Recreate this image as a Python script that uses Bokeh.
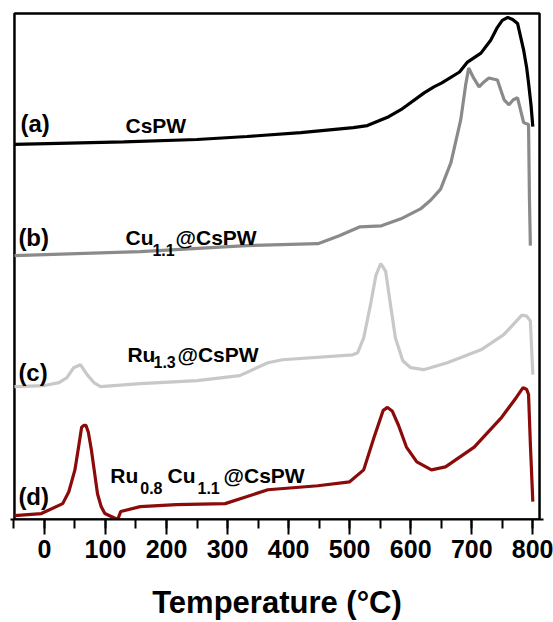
from bokeh.plotting import figure
from bokeh.models import Range1d, SingleIntervalTicker, ColumnDataSource
from bokeh.core.properties import value
from bokeh.embed import file_html
from bokeh.resources import INLINE

# ---- data (temperature in °C, signal in arbitrary units, stacked) ----
a_temp = [-49, 130, 250, 332, 420, 506, 529, 564, 584, 593, 622, 638, 651, 680, 693, 715,
          731, 742, 750, 759, 767, 775, 785, 790, 793, 797, 800]
a_sig = [378, 380.5, 383, 386, 390, 395, 397, 406, 413, 417, 430, 436, 440, 451, 461, 470,
         483, 496, 503, 506, 504, 500, 473, 455, 440, 418, 396]

b_temp = [-49, 157, 331, 448, 483, 517, 552, 584, 600, 616, 633, 649, 666, 682, 690, 695,
          703, 712, 720, 728, 742, 753, 761, 768, 775, 785, 793, 794.5, 796]
b_sig = [266, 270, 276, 278, 286, 295, 296, 303, 308, 313, 322, 333, 360, 403, 438, 455,
         445, 436, 441, 445, 443, 423, 418, 423, 425, 400, 398, 323, 276]

c_temp = [-49, 0, 24, 37, 48, 59, 70, 81, 92, 157, 250, 320, 366, 390, 505, 513, 523, 534,
          543, 551, 559, 567, 575, 587, 600, 621, 660, 715, 752, 770, 782, 790, 796, 800]
c_sig = [134, 135, 138, 143, 153, 156, 146, 138, 134, 137, 140, 145, 158, 161, 166, 168, 183,
         216, 246, 258, 250, 216, 183, 160, 153, 151, 158, 171, 186, 198, 206, 205, 200, 146]

d_temp = [-49, -5, 30, 40, 50, 56, 61, 65, 68, 72, 77, 82, 87, 93, 99, 120, 125, 157, 216,
          296, 331, 366, 448, 500, 523, 540, 555, 562, 570, 580, 593, 610, 634, 657, 704, 749,
          773, 784, 790, 793, 796, 800]
d_sig = [4, 6, 16, 28, 50, 73, 93, 95, 95, 88, 70, 48, 26, 13, 6, 0, 8, 13, 15, 16, 23, 30,
         34, 38, 50, 83, 110, 113, 109, 95, 73, 58, 50, 53, 73, 103, 123, 133, 131, 126, 76, 18]

# plot box limits (the drawn frame) and a small padding so the box stroke lies inside
X_LO, X_HI = -49, 811
Y_LO, Y_HI = 0, 510
PAD_X, PAD_Y = 6.5, 4

FONT = value("Liberation Sans")

p = figure(width=553, height=622, output_backend="svg", toolbar_location=None,
           x_range=Range1d(X_LO - PAD_X, X_HI + PAD_X), y_range=Range1d(Y_LO, Y_HI + PAD_Y),
           min_border_left=10, min_border_right=10, min_border_top=9, min_border_bottom=99)

p.background_fill_color = "white"
p.border_fill_color = "white"
p.outline_line_color = None
p.xgrid.visible = False
p.ygrid.visible = False
p.yaxis.visible = False

# frame box
p.line([X_LO, X_LO, X_HI, X_HI, X_LO], [Y_LO, Y_HI, Y_HI, Y_LO, Y_LO],
       line_color="black", line_width=2.5)

ax = p.below[0]
ax.ticker = SingleIntervalTicker(interval=100, num_minor_ticks=2)
ax.axis_line_width = 2
ax.axis_line_color = "black"
ax.major_tick_line_width = 2
ax.minor_tick_line_width = 2
ax.major_tick_in = 0
ax.major_tick_out = 15
ax.minor_tick_in = 0
ax.minor_tick_out = 9
ax.major_label_text_font = "Liberation Sans"
ax.major_label_text_font_style = "bold"
ax.major_label_text_font_size = "25px"
ax.major_label_text_color = "black"
ax.major_label_standoff = 5
ax.axis_label = "Temperature (°C)"
ax.axis_label_text_font = "Liberation Sans"
ax.axis_label_text_font_style = "bold"
ax.axis_label_text_font_size = "31px"
ax.axis_label_text_color = "black"
ax.axis_label_standoff = 24

p.line(a_temp, a_sig, line_color="#000000", line_width=3.2)
p.line(b_temp, b_sig, line_color="#8a8a8a", line_width=3.2)
p.line(c_temp, c_sig, line_color="#c8c8c8", line_width=3.2)
p.line(d_temp, d_sig, line_color="#8b0a0a", line_width=3.2)

# ---- labels: (text, x, y, font size) ----
letters = [("(a)", -39.3, 399), ("(b)", -42.6, 284), ("(c)", -42.6, 148), ("(d)", -42.6, 23)]
names = [
    ("CsPW", 132.8, 397, "21px"),
    ("Cu", 132.8, 284, "21px"), ("1.1", 177, 272, "16px"), ("@CsPW", 214.8, 284, "21px"),
    ("Ru", 136, 166, "21px"), ("1.3", 178.7, 159, "16px"), ("@CsPW", 218, 166, "21px"),
    ("Ru", 108, 44, "21px"), ("0.8", 157, 32, "16px"), ("Cu", 201.6, 44, "21px"),
    ("1.1", 250.8, 32, "16px"), ("@CsPW", 293.4, 44, "21px"),
]

src_l = ColumnDataSource(dict(x=[l[1] for l in letters], y=[l[2] for l in letters],
                              t=[l[0] for l in letters]))
p.text(x="x", y="y", text="t", source=src_l, text_font=FONT, text_font_style="bold",
       text_font_size="24px", text_color="black", text_align="left",
       text_baseline="alphabetic")

for sz in ["21px", "16px"]:
    sel = [n for n in names if n[3] == sz]
    src = ColumnDataSource(dict(x=[n[1] for n in sel], y=[n[2] for n in sel],
                                t=[n[0] for n in sel]))
    p.text(x="x", y="y", text="t", source=src, text_font=FONT, text_font_style="bold",
           text_font_size=sz, text_color="black", text_align="left",
           text_baseline="alphabetic")

open("out.html", "w").write(file_html(p, INLINE))
